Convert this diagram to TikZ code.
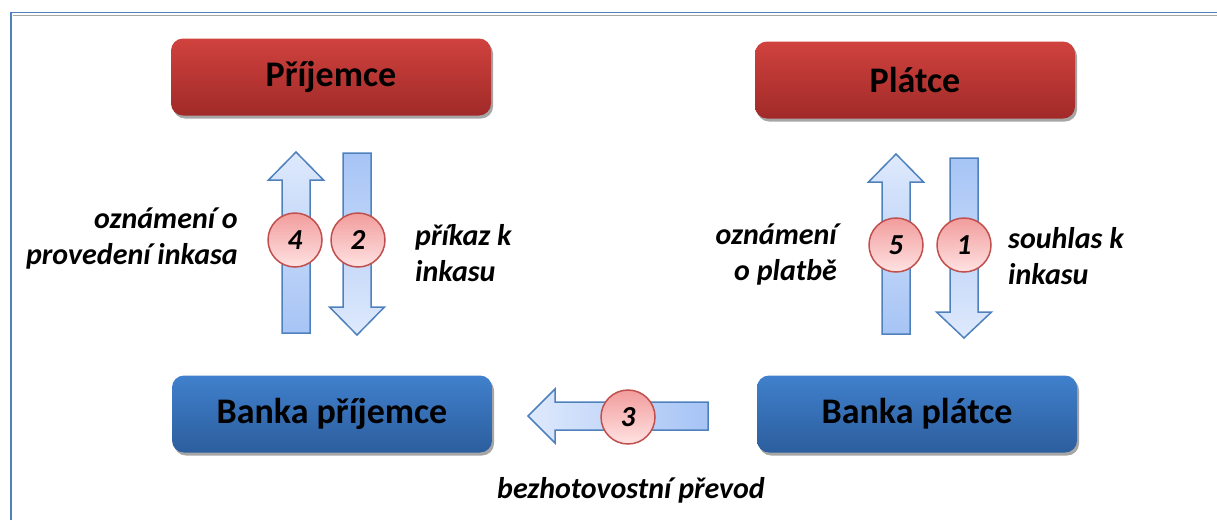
\documentclass[tikz,border=0pt]{standalone}
\usepackage{fontspec}
\setmainfont{Carlito}
\usetikzlibrary{shadows}

\definecolor{frameblue}{RGB}{79,129,189}
\definecolor{redtop}{RGB}{208,66,62}
\definecolor{redbot}{RGB}{160,42,40}
\definecolor{bluetop}{RGB}{64,128,204}
\definecolor{bluebot}{RGB}{44,94,158}
\definecolor{arrlight}{RGB}{222,233,252}
\definecolor{arrdark}{RGB}{166,196,245}
\definecolor{circtop}{RGB}{242,156,156}
\definecolor{circbot}{RGB}{255,226,226}
\definecolor{circline}{RGB}{192,80,77}

\tikzset{
  party/.style={rectangle, rounded corners=12pt, minimum width=320pt, minimum height=77pt,
    font=\fontsize{36}{40}\selectfont\bfseries,
    drop shadow={shadow xshift=2pt, shadow yshift=-3pt, fill=black!35, opacity=1}},
  person/.style={party, top color=redtop, bottom color=redbot},
  bank/.style={party, top color=bluetop, bottom color=bluebot},
  stepnum/.style={circle, draw=circline, line width=1.5pt, minimum size=54pt, inner sep=0pt,
    top color=circtop, bottom color=circbot, font=\fontsize{29}{32}\selectfont\bfseries\itshape},
  flow/.style={draw=frameblue, line width=1.5pt},
  lbl/.style={font=\fontsize{30}{36}\selectfont\bfseries\itshape, inner sep=0pt},
}

\begin{document}
\begin{tikzpicture}[x=1pt,y=-1pt]
\useasboundingbox (0,0) rectangle (1217,520);
% frame
\draw[frameblue, line width=1.8pt] (11,520) -- (11,12.5) -- (1217,12.5);
\draw[black!35, line width=1.5pt] (12.5,15.5) -- (1217,15.5);

% parties
\node[person] (prijemce) at (331,77) {Příjemce};
\node[person] (platce) at (915,80) {Plátce};
\node[bank] (bprijemce) at (332,414) {Banka příjemce};
\node[bank] (bplatce) at (917,414) {Banka plátce};

% block arrows
\shadedraw[flow, top color=arrlight, bottom color=arrdark] (282,333) -- (282,180) -- (268.5,180) -- (296,152) -- (323.5,180) -- (310,180) -- (310,333) -- cycle;
\shadedraw[flow, top color=arrdark, bottom color=arrlight] (343,153) -- (371,153) -- (371,307) -- (384.5,307) -- (357,335) -- (329.5,307) -- (343,307) -- cycle;
\shadedraw[flow, top color=arrlight, bottom color=arrdark] (882,334) -- (882,182) -- (868.5,182) -- (896,154) -- (923.5,182) -- (910,182) -- (910,334) -- cycle;
\shadedraw[flow, top color=arrdark, bottom color=arrlight] (950,158) -- (978,158) -- (978,312) -- (991.5,312) -- (964,338) -- (936.5,312) -- (950,312) -- cycle;
\shadedraw[flow, left color=arrlight, right color=arrdark] (708,402) -- (555,402) -- (555,389) -- (528,416) -- (555,443) -- (555,430) -- (708,430) -- cycle;

% steps
\node[stepnum] (s4) at (295,240) {4};
\node[stepnum] (s2) at (358,240) {2};
\node[stepnum] (s5) at (896,245) {5};
\node[stepnum] (s1) at (964,245) {1};
\node[stepnum] (s3) at (628,417) {3};

% labels
\node[lbl, align=right, anchor=east] (l4) at (238,239) {oznámení o\\provedení inkasa};
\node[lbl, align=left, anchor=west] (l2) at (415,253) {příkaz k\\inkasu};
\node[lbl, align=right, anchor=east] (l5) at (837,255) {oznámení\\o platbě};
\node[lbl, align=left, anchor=west] (l1) at (1008,256) {souhlas k\\inkasu};
\node[lbl, anchor=base] (l3) at (631,498) {bezhotovostní převod};
\end{tikzpicture}
\end{document}
